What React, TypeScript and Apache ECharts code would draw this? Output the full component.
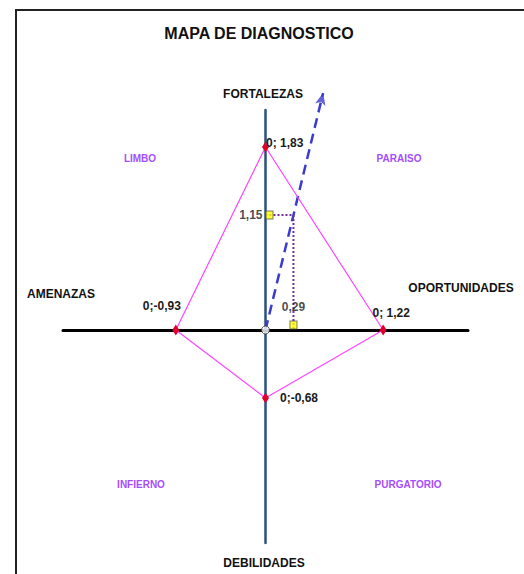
import React, { useEffect, useRef } from "react";
import * as echarts from "echarts";

// ---- data ----
const diamondX = [0, 1.22, 0, -0.93, 0];
const diamondY = [1.83, 0, -0.68, 0, 1.83];
const resultX = 0.29;
const resultY = 1.15;
const arrowFactor = 2.06;
const axisNames = ["FORTALEZAS", "DEBILIDADES", "AMENAZAS", "OPORTUNIDADES"];
const quadrantNames = ["LIMBO", "PARAISO", "INFIERNO", "PURGATORIO"];
const titleText = "MAPA DE DIAGNOSTICO";

const FONT = "'Liberation Sans Narrow', 'Liberation Sans', Arial, sans-serif";

const fmt = (v: number) => v.toFixed(2).replace(".", ",");
const pointLabel = (v: number) => `0;${v >= 0 ? " " : ""}${fmt(v)}`;

export default function App() {
  const ref = useRef<HTMLDivElement>(null);
  useEffect(() => {
    document.body.style.margin = "0";
    const chart = echarts.init(ref.current!, null, { renderer: "svg" });
    const labelPos: any[] = [
      { position: "right", offset: [-8, -4] },
      { position: "top", offset: [8, -1] },
      { position: "right", offset: [6, 0] },
      { position: "top", offset: [-14, -8] },
    ];
    const labelVals = [diamondY[0], diamondX[1], diamondY[2], diamondX[3]];
    const diamondData = diamondX.map((x, i) => {
      if (i === diamondX.length - 1)
        return { value: [x, diamondY[i]], symbol: "none", label: { show: false } };
      return {
        value: [x, diamondY[i]],
        label: {
          show: true,
          formatter: pointLabel(labelVals[i]),
          ...labelPos[i],
        },
      };
    });
    const txt = (text: string, x: number, y: number, color: string, size: number) => ({
      type: "text",
      x,
      y,
      style: {
        text,
        fill: color,
        font: `bold ${size}px ${FONT}`,
        textAlign: "center",
        textVerticalAlign: "middle",
      },
    });
    const purple = "#a64dff";
    const arrowEnd = [resultX * arrowFactor, resultY * arrowFactor];
    chart.setOption({
      animation: false,
      backgroundColor: "#fff",
      title: {
        text: titleText,
        left: 254,
        top: 20,
        textAlign: "center",
        textStyle: { fontFamily: FONT, fontSize: 16, fontWeight: "bold", color: "#111" },
      },
      grid: { left: 63, right: 56, top: 110, bottom: 31 },
      xAxis: {
        type: "value",
        min: -2.1,
        max: 2.1,
        axisLine: { show: true, onZero: true, lineStyle: { color: "#000", width: 3 } },
        axisTick: { show: false },
        axisLabel: { show: false },
        splitLine: { show: false },
      },
      yAxis: {
        type: "value",
        min: -2.13,
        max: 2.2,
        axisLine: { show: true, onZero: true, lineStyle: { color: "#2b4f80", width: 2.5 } },
        axisTick: { show: false },
        axisLabel: { show: false },
        splitLine: { show: false },
      },
      graphic: [
        {
          type: "rect",
          shape: { x: 16, y: 10, width: 700, height: 800 },
          style: { fill: "none", stroke: "#222", lineWidth: 2 },
          z: 100,
        },
        txt(axisNames[0], 263, 94, "#111", 12),
        txt(axisNames[1], 264, 563, "#111", 12),
        txt(axisNames[2], 61, 294, "#111", 12),
        txt(axisNames[3], 461, 288, "#111", 12),
        txt(quadrantNames[0], 140, 158, purple, 10),
        txt(quadrantNames[1], 399, 158, purple, 10),
        txt(quadrantNames[2], 141, 484, purple, 10),
        txt(quadrantNames[3], 408, 484, purple, 10),
      ],
      series: [
        {
          id: "arrowLine",
          type: "line",
          z: 3,
          clip: false,
          data: [[0, 0], arrowEnd],
          symbol: "none",
          lineStyle: { color: "#3b3bd0", width: 2.5, type: [10, 6] },
        },
        {
          id: "arrowHead",
          type: "scatter",
          z: 3,
          clip: false,
          symbol: "arrow",
          symbolSize: [8, 12],
          symbolOffset: [0, 0],
          itemStyle: { color: "#3b3bd0" },
          data: [arrowEnd],
        },
        {
          type: "line",
          z: 4,
          data: [
            [0, resultY],
            [resultX, resultY],
            [resultX, 0],
          ],
          symbol: "none",
          lineStyle: { color: "#7030a0", width: 2, type: [2, 2] },
        },
        {
          type: "line",
          z: 5,
          data: diamondData,
          symbol: "diamond",
          symbolSize: [7, 11],
          itemStyle: { color: "#e0002a" },
          lineStyle: { color: "#ff44ff", width: 1.2 },
          label: {
            color: "#1a1a1a",
            fontFamily: FONT,
            fontSize: 12,
            fontWeight: "bold",
          },
        },
        {
          type: "scatter",
          z: 6,
          symbol: "rect",
          symbolSize: [7, 8],
          itemStyle: { color: "#ffff00", borderColor: "#555", borderWidth: 1 },
          label: {
            show: true,
            color: "#1a1a1a",
            fontFamily: FONT,
            fontSize: 12,
            fontWeight: "bold",
          },
          data: [
            {
              value: [0, resultY],
              symbolOffset: [4, 0],
              label: { position: "left", formatter: fmt(resultY), offset: [2, 0] },
            },
            {
              value: [resultX, 0],
              symbolOffset: [0, -5],
              label: { position: "top", formatter: fmt(resultX), offset: [0, -2] },
            },
          ],
        },
        {
          type: "scatter",
          z: 7,
          symbol: "circle",
          symbolSize: 8,
          itemStyle: { color: "#fff", borderColor: "#333", borderWidth: 1 },
          data: [[0, 0]],
        },
      ],
    });
    const p0 = chart.convertToPixel({ gridIndex: 0 }, [0, 0]) as number[];
    const p1 = chart.convertToPixel({ gridIndex: 0 }, arrowEnd) as number[];
    if (p0 && p1) {
      const ang = (Math.atan2(p1[0] - p0[0], p0[1] - p1[1]) * 180) / Math.PI;
      chart.setOption({ series: [{ id: "arrowHead", symbolRotate: -ang }] });
    }
    return () => chart.dispose();
  }, []);
  return <div ref={ref} style={{ width: 524, height: 574 }} />;
}
